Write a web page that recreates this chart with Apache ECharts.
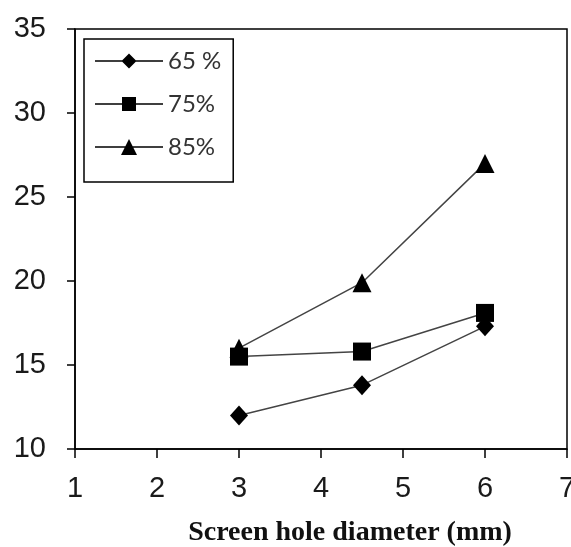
<!DOCTYPE html>
<html><head><meta charset="utf-8">
<script src="https://cdn.jsdelivr.net/npm/echarts@6/dist/echarts.min.js"></script>
<style>html,body{margin:0;padding:0;background:#fff}#c{width:571px;height:547px}</style>
</head><body><div id="c"></div>
<script>
const xValues = [3, 4.5, 6];
const seriesNames = ['65 %', '75%', '85%'];
const s65 = [12.0, 13.8, 17.3];
const s75 = [15.5, 15.8, 18.1];
const s85 = [16.0, 19.9, 27.0];
const xTitle = 'Screen hole diameter (mm)';

const symbols = ['diamond', 'rect', 'triangle'];
const sizes = [[18, 20], 18, [19, 19]];
const dataSets = [s65, s75, s85];
const zs = [2, 4, 3];
const lineSeg = 'M0 7.25 L68 7.25 L68 8.75 L0 8.75 Z ';
const legendIcons = [
  'path://' + lineSeg + 'M34 0.5 L41.5 8 L34 15.5 L26.5 8 Z',
  'path://' + lineSeg + 'M27 1 L41 1 L41 15 L27 15 Z',
  'path://' + lineSeg + 'M34 0 L42 16 L26 16 Z'
];

const labelFont = "'Liberation Sans', Arial, sans-serif";

const chart = echarts.init(document.getElementById('c'), null, {renderer: 'canvas'});
const series = dataSets.map((d, i) => ({
  name: seriesNames[i],
  type: 'line',
  data: d.map((v, j) => [xValues[j], v]),
  symbol: symbols[i],
  symbolSize: sizes[i],
  z: zs[i],
  lineStyle: {color: '#444', width: 1.5},
  itemStyle: {color: '#000', borderWidth: 0},
  emphasis: {disabled: true},
  animation: false
}));

chart.setOption({
  animation: false,
  grid: {left: 75, right: 4, top: 29, bottom: 98, containLabel: false, outerBoundsMode: 'none',
         show: true, borderColor: '#000', borderWidth: 1.5, backgroundColor: 'transparent'},
  xAxis: {
    type: 'value', min: 1, max: 7, interval: 1,
    name: xTitle, nameLocation: 'middle', nameGap: 70,
    nameTextStyle: {fontFamily: 'Liberation Serif', fontWeight: 'bold', fontSize: 28, color: '#111', padding: [0, 0, 0, 58]},
    axisLine: {lineStyle: {color: '#000', width: 1.5}},
    axisTick: {show: true, length: 9, inside: false, lineStyle: {color: '#000', width: 1.5}},
    axisLabel: {fontFamily: labelFont, fontSize: 29, color: '#1a1a1a', margin: 25, showMaxLabel: true},
    splitLine: {show: false}
  },
  yAxis: {
    type: 'value', min: 10, max: 35, interval: 5,
    axisLine: {show: true, lineStyle: {color: '#000', width: 1.5}},
    axisTick: {show: true, length: 8, lineStyle: {color: '#000', width: 1.5}},
    axisLabel: {fontFamily: labelFont, fontSize: 29, color: '#1a1a1a', margin: 29},
    splitLine: {show: false}
  },
  legend: {
    orient: 'vertical', left: 84, top: 39,
    padding: [10, 12, 23, 11],
    itemGap: 19, itemWidth: 68, itemHeight: 16,
    borderColor: '#000', borderWidth: 1.5, borderRadius: 0,
    backgroundColor: '#fff',
    textStyle: {fontFamily: 'Lato', fontSize: 24, color: '#333', lineHeight: 24},
    data: seriesNames.map((n, i) => ({name: n, icon: legendIcons[i], itemStyle: {color: '#000'}}))
  },
  series: series
});
</script></body></html>
